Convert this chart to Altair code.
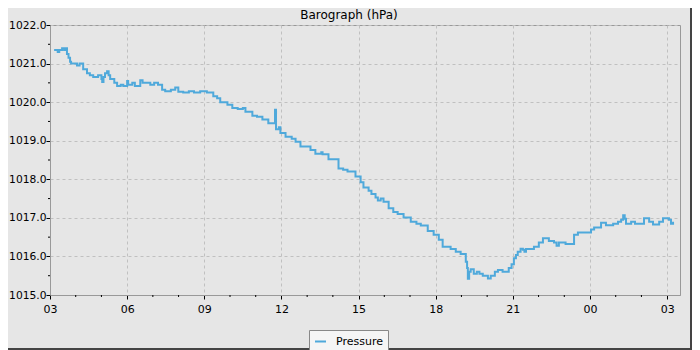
import altair as alt
import pandas as pd

# hours after 03:00 on the first day, pressure in hPa
hours = [0.16, 0.30, 0.36, 0.47, 0.55, 0.60, 0.66, 0.72, 0.78, 0.82, 1.05, 1.15, 1.29, 1.44,
         1.55, 1.68, 1.87, 2.00, 2.03, 2.08, 2.14, 2.22, 2.28, 2.34, 2.50, 2.61, 2.75, 2.85,
         3.00, 3.04, 3.20, 3.30, 3.51, 3.60, 3.70, 3.90, 4.05, 4.20, 4.36, 4.48, 4.70, 4.87,
         4.99, 5.18, 5.40, 5.60, 5.84, 6.10, 6.35, 6.50, 6.62, 6.90, 7.09, 7.30, 7.50, 7.60,
         7.87, 8.05, 8.26, 8.49, 8.72, 8.75, 8.79, 8.90, 8.96, 9.16, 9.40, 9.55, 9.74, 10.13,
         10.32, 10.55, 10.60, 10.83, 11.22, 11.40, 11.57, 11.88, 12.08, 12.19, 12.39, 12.50,
         12.66, 12.75, 12.86, 12.97, 13.17, 13.35, 13.52, 13.75, 14.03, 14.25, 14.42, 14.69,
         14.92, 15.12, 15.27, 15.58, 15.78, 15.97, 16.17, 16.22, 16.25, 16.30, 16.36, 16.48,
         16.60, 16.70, 16.83, 17.03, 17.14, 17.30, 17.42, 17.60, 17.84, 17.95, 18.04, 18.12,
         18.19, 18.30, 18.39, 18.45, 18.51, 18.82, 19.01, 19.17, 19.40, 19.60, 19.70, 19.79,
         20.05, 20.38, 20.53, 21.04, 21.16, 21.43, 21.62, 21.90, 22.09, 22.21, 22.29, 22.35,
         22.40, 22.60, 22.75, 22.99, 23.10, 23.30, 23.45, 23.69, 23.84, 24.07, 24.15, 24.23]
pressure = [1021.35, 1021.30, 1021.35, 1021.40, 1021.35, 1021.40, 1021.25, 1021.15, 1021.05,
            1021.00, 1020.95, 1021.00, 1020.85, 1020.75, 1020.70, 1020.65, 1020.70, 1020.60,
            1020.52, 1020.65, 1020.75, 1020.80, 1020.70, 1020.60, 1020.50, 1020.42, 1020.45,
            1020.42, 1020.55, 1020.45, 1020.50, 1020.42, 1020.57, 1020.50, 1020.50, 1020.45,
            1020.50, 1020.45, 1020.32, 1020.28, 1020.32, 1020.38, 1020.27, 1020.25, 1020.28,
            1020.25, 1020.28, 1020.25, 1020.15, 1020.10, 1020.00, 1019.93, 1019.85, 1019.82,
            1019.85, 1019.75, 1019.65, 1019.62, 1019.55, 1019.45, 1019.45, 1019.80, 1019.30,
            1019.35, 1019.20, 1019.10, 1019.05, 1018.97, 1018.85, 1018.76, 1018.66, 1018.70,
            1018.65, 1018.52, 1018.28, 1018.25, 1018.20, 1018.07, 1017.92, 1017.79, 1017.70,
            1017.62, 1017.53, 1017.45, 1017.50, 1017.42, 1017.25, 1017.15, 1017.10, 1017.01,
            1016.90, 1016.85, 1016.80, 1016.66, 1016.56, 1016.43, 1016.25, 1016.19, 1016.12,
            1016.06, 1015.86, 1015.70, 1015.42, 1015.60, 1015.67, 1015.55, 1015.60, 1015.55,
            1015.50, 1015.43, 1015.50, 1015.60, 1015.65, 1015.60, 1015.70, 1015.80, 1015.95,
            1016.04, 1016.12, 1016.20, 1016.17, 1016.12, 1016.19, 1016.25, 1016.36, 1016.47,
            1016.40, 1016.36, 1016.28, 1016.36, 1016.32, 1016.56, 1016.62, 1016.70, 1016.75,
            1016.87, 1016.81, 1016.85, 1016.90, 1016.95, 1017.07, 1016.98, 1016.85, 1016.90,
            1016.85, 1016.85, 1016.99, 1016.90, 1016.83, 1016.90, 1016.99, 1016.95, 1016.85,
            1016.90]

x_major = [0, 3, 6, 9, 12, 15, 18, 21, 24]
x_minor = [h for h in range(1, 25) if h % 3 != 0]
y_major = [1015, 1016, 1017, 1018, 1019, 1020, 1021, 1022]
y_minor = [1015.5, 1016.5, 1017.5, 1018.5, 1019.5, 1020.5, 1021.5]

W, H = 630, 270
FONT = "DejaVu Sans"
BLUE = "#4fa9db"

df = pd.DataFrame({"h": hours, "p": pressure, "series": ["Pressure"] * len(hours)})

xscale = alt.Scale(domain=[0, 24.5], nice=False, zero=False)
yscale = alt.Scale(domain=[1015, 1022], nice=False, zero=False)

xaxis = alt.Axis(
    values=x_major, labelExpr="format((datum.value + 3) % 24, '02d')",
    title=None, grid=True, gridDash=[3, 3], gridColor="#c0c0c0",
    domainColor="#999999", tickColor="#000000", tickSize=4, labelOverlap=False,
    labelFlush=False, labelFont=FONT, labelFontSize=11, labelColor="#000000",
    labelPadding=4)
yaxis = alt.Axis(
    values=y_major, format=".1f", title=None, grid=True, gridDash=[3, 3],
    gridColor="#c0c0c0", domainColor="#999999", tickColor="#000000", tickSize=4,
    labelOverlap=False, labelFlush=False, labelFont=FONT, labelFontSize=10.7,
    labelColor="#000000", labelPadding=0)

line = alt.Chart(df).mark_line(interpolate="step-after", strokeWidth=2).encode(
    x=alt.X("h:Q", scale=xscale, axis=xaxis),
    y=alt.Y("p:Q", scale=yscale, axis=yaxis),
    color=alt.Color("series:N", scale=alt.Scale(domain=["Pressure"], range=[BLUE]),
                    legend=alt.Legend(title=None, orient="none", legendX=259, legendY=305,
                                      symbolType="stroke", symbolSize=121, symbolStrokeWidth=2,
                                      labelFont=FONT, labelFontSize=11, labelColor="#000000",
                                      fillColor="#f5f5f5", strokeColor="#888888", padding=5,
                                      labelOffset=9)),
)

xm = alt.Chart(pd.DataFrame({"h": x_minor})).mark_rule(color="#000000").encode(
    x=alt.X("h:Q", scale=xscale, axis=xaxis), y=alt.value(H), y2=alt.value(H + 2))
ym = alt.Chart(pd.DataFrame({"p": y_minor})).mark_rule(color="#000000").encode(
    y=alt.Y("p:Q", scale=yscale, axis=yaxis), x=alt.value(-2), x2=alt.value(0))

title = alt.Chart(pd.DataFrame({"t": ["Barograph (hPa)"]})).mark_text(
    font=FONT, fontSize=12, color="#000000", align="center", baseline="alphabetic"
).encode(text="t:N", x=alt.value(299), y=alt.value(-6))

one = pd.DataFrame({"a": [0]})
frame_r = alt.Chart(one).mark_rule(color="#444444", strokeWidth=4).encode(
    x=alt.value(642), y=alt.value(-17), y2=alt.value(325))
frame_b = alt.Chart(one).mark_rule(color="#444444", strokeWidth=4).encode(
    x=alt.value(-42), x2=alt.value(642), y=alt.value(325))

chart = alt.layer(line, xm, ym, title, frame_r, frame_b).properties(
    width=W, height=H,
    autosize=alt.AutoSizeParams(type="none"),
    padding={"left": 42, "top": 17, "right": 12, "bottom": 55},
    background="#e6e6e6",
).configure_view(fill="#e6e6e6", stroke="#999999", strokeWidth=1)

chart.save("out.html", embed_options={"renderer": "svg", "actions": False})
